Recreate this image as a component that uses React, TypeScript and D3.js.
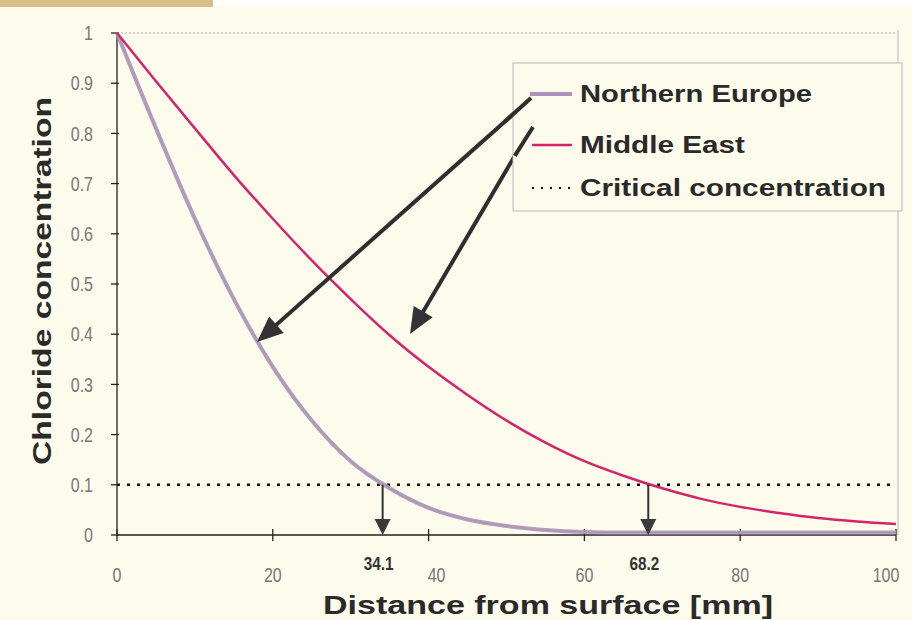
import React from "react";
import * as d3 from "d3";

const distances = [0, 5, 10, 15, 20, 25, 30, 35, 40, 45, 50, 55, 60, 65, 70, 75, 80, 85, 90, 95, 100];
const northernEurope = [1, 0.81, 0.63, 0.47, 0.335, 0.228, 0.147, 0.093, 0.054, 0.031, 0.018, 0.01, 0.006, 0.005, 0.005, 0.005, 0.005, 0.005, 0.005, 0.005, 0.005];
const middleEast = [1, 0.904, 0.81, 0.717, 0.63, 0.547, 0.47, 0.398, 0.335, 0.279, 0.228, 0.184, 0.147, 0.118, 0.093, 0.072, 0.056, 0.044, 0.034, 0.027, 0.022];
const criticalValue = 0.1;
const xTicks = [0, 20, 40, 60, 80, 100];
const yTicks = [0, 0.1, 0.2, 0.3, 0.4, 0.5, 0.6, 0.7, 0.8, 0.9, 1];
const crossings = [34.1, 68.2];
const legendLabels = ["Northern Europe", "Middle East", "Critical concentration"];

export default function App() {
  const W = 912, H = 620;
  const x = d3.scaleLinear().domain([0, 100]).range([117, 896]);
  const y = d3.scaleLinear().domain([0, 1]).range([535, 33]);
  const line = d3
    .line<number>()
    .x((_, i) => x(distances[i]))
    .y((d) => y(d))
    .curve(d3.curveMonotoneX);
  const font = "'Liberation Sans', Arial, sans-serif";
  const yFmt = (v: number) => (v === 0 ? "0" : v === 1 ? "1" : String(v));

  const arrowHead = (tx: number, ty: number, ang: number, len: number, wid: number) => {
    const bx = tx - len * Math.cos(ang), by = ty - len * Math.sin(ang);
    const px = -Math.sin(ang) * wid / 2, py = Math.cos(ang) * wid / 2;
    return `M${tx},${ty}L${bx + px},${by + py}L${bx - px},${by - py}Z`;
  };
  const diag = [
    { x1: 528, y1: 101, x2: 257, y2: 342 },
    { x1: 530, y1: 130, x2: 410, y2: 334 },
  ];
  const legendY = [94, 145, 188];
  const legendLen = [232, 165, 306];

  return (
    <svg width={W} height={H} style={{ position: "fixed", left: 0, top: 0 }} fontFamily={font}>
      <rect width={W} height={H} fill="#fdfbeb" />
      <rect x={0} y={0} width={213} height={7} fill="#d9bd86" />
      <rect x={213} y={0} width={W - 213} height={6} fill="#ffffff" />
      {/* plot frame */}
      <line x1={x(0)} x2={x(100)} y1={y(1)} y2={y(1)} stroke="#aaa" strokeWidth={1.2} strokeDasharray="2,2" />
      <line x1={x(100) + 2} x2={x(100) + 2} y1={y(1) - 3} y2={y(0)} stroke="#bbb" strokeWidth={1} />
      {/* axes */}
      <line x1={x(0)} x2={x(0)} y1={y(1)} y2={y(0)} stroke="#222" strokeWidth={1.3} />
      <line x1={x(0)} x2={x(100)} y1={y(0)} y2={y(0)} stroke="#222" strokeWidth={1.3} />
      {yTicks.map((t) => (
        <g key={"y" + t}>
          <line x1={x(0) - 6} x2={x(0) + 2} y1={y(t)} y2={y(t)} stroke="#222" strokeWidth={1.3} />
          <g transform={`translate(${x(0) - 24},${y(t)}) scale(0.8,1)`}>
            <text dy="0.36em" textAnchor="end" fontSize={20} fill="#777">
              {yFmt(t)}
            </text>
          </g>
        </g>
      ))}
      {xTicks.map((t) => (
        <g key={"x" + t}>
          <line x1={x(t)} x2={x(t)} y1={y(0) - 6} y2={y(0) + 6} stroke="#222" strokeWidth={1.3} />
          <g transform={`translate(${x(t) + (t === 100 ? -10 : t === 40 ? 8 : 0)},582) scale(0.8,1)`}>
            <text textAnchor="middle" fontSize={20} fill="#777">
              {t}
            </text>
          </g>
        </g>
      ))}
      {/* critical */}
      <line x1={x(0)} x2={x(100)} y1={y(criticalValue)} y2={y(criticalValue)} stroke="#111" strokeWidth={2.5} strokeDasharray="3,7" />
      {/* curves */}
      <path d={line(northernEurope) || ""} fill="none" stroke="#a496bd" strokeWidth={4} opacity={0.9} />
      <path d={line(northernEurope) || ""} fill="none" stroke="#c08aa8" strokeWidth={1.2} opacity={0.7} />
      <path d={line(middleEast) || ""} fill="none" stroke="#d3246b" strokeWidth={2.5} />
      {/* vertical arrows */}
      {crossings.map((c) => (
        <g key={"c" + c}>
          <line x1={x(c)} x2={x(c)} y1={y(criticalValue)} y2={y(0) - 14} stroke="#333" strokeWidth={2} />
          <path d={arrowHead(x(c), y(0), Math.PI / 2, 16, 16)} fill="#3a3a3a" />
          <g transform={`translate(${x(c) - 4},570) scale(0.85,1)`}>
            <text textAnchor="middle" fontSize={18} fontWeight="bold" fill="#333">
              {c}
            </text>
          </g>
        </g>
      ))}
      {/* diagonal arrows */}
      {diag.map((a, i) => {
        const ang = Math.atan2(a.y2 - a.y1, a.x2 - a.x1);
        const ex = a.x2 - 22 * Math.cos(ang), ey = a.y2 - 22 * Math.sin(ang);
        return (
          <g key={"d" + i}>
            <line x1={a.x1} y1={a.y1} x2={ex} y2={ey} stroke="#2e2e2e" strokeWidth={4} />
            <path d={arrowHead(a.x2, a.y2, ang, 26, 22)} fill="#333" />
          </g>
        );
      })}
      {/* legend */}
      <rect x={513} y={63} width={389} height={148} fill="#fdfbeb" stroke="#bbb" strokeWidth={1} />
      {diag.map((a, i) => {
        const ang = Math.atan2(a.y2 - a.y1, a.x2 - a.x1);
        return (
          <line key={"dl" + i} x1={a.x1 + 3} y1={a.y1 - 3} x2={a.x1 + 30 * Math.cos(ang)} y2={a.y1 + 30 * Math.sin(ang)} stroke="#2e2e2e" strokeWidth={4} />
        );
      })}
      <line x1={530} x2={572} y1={legendY[0]} y2={legendY[0]} stroke="#a496bd" strokeWidth={4} />
      <line x1={530} x2={572} y1={legendY[0]} y2={legendY[0]} stroke="#c08aa8" strokeWidth={1.2} />
      <line x1={532} x2={572} y1={legendY[1]} y2={legendY[1]} stroke="#d3246b" strokeWidth={2.5} />
      <line x1={532} x2={572} y1={legendY[2]} y2={legendY[2]} stroke="#111" strokeWidth={2} strokeDasharray="2,7" />
      {legendLabels.map((l, i) => (
        <text key={l} x={580} y={legendY[i]} dy="0.35em" fontSize={23} fontWeight="bold" fill="#2a2a2a"
          textLength={legendLen[i]} lengthAdjust="spacingAndGlyphs">
          {l}
        </text>
      ))}
      {/* axis titles */}
      <text transform="translate(51,281) rotate(-90)" textAnchor="middle" fontSize={25} fontWeight="bold" fill="#2a2a2a"
        textLength={368} lengthAdjust="spacingAndGlyphs">
        Chloride concentration
      </text>
      <text x={548} y={614} textAnchor="middle" fontSize={26} fontWeight="bold" fill="#2a2a2a"
        textLength={450} lengthAdjust="spacingAndGlyphs">
        Distance from surface [mm]
      </text>
    </svg>
  );
}
